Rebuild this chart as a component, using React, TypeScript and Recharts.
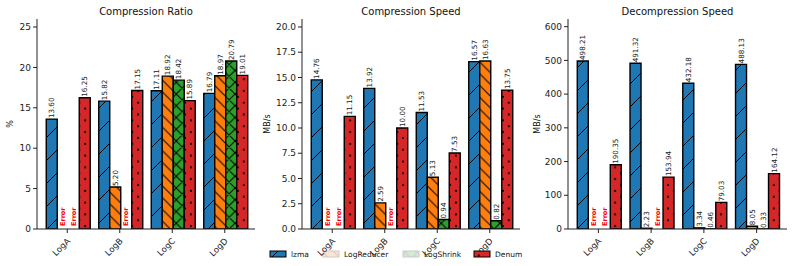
import React from 'react';
import { BarChart, Bar, XAxis, YAxis, LabelList, Cell } from 'recharts';

const categories = ['LogA', 'LogB', 'LogC', 'LogD'];
const seriesNames = ['lzma', 'LogReducer', 'LogShrink', 'Denum'];
const seriesKeys = ['lzma', 'reducer', 'shrink', 'denum'];

// null = "Error"
const ratioLzma = [13.6, 15.82, 17.11, 16.79];
const ratioReducer = [null, 5.2, 18.92, 18.97];
const ratioShrink = [null, null, 18.42, 20.79];
const ratioDenum = [16.25, 17.15, 15.89, 19.01];

const compLzma = [14.76, 13.92, 11.53, 16.57];
const compReducer = [null, 2.59, 5.13, 16.63];
const compShrink = [null, null, 0.94, 0.82];
const compDenum = [11.15, 10.0, 7.53, 13.75];

const decompLzma = [498.21, 491.32, 432.18, 488.13];
const decompReducer = [null, 2.23, 3.34, 8.05];
const decompShrink = [null, null, 0.46, 0.33];
const decompDenum = [190.35, 153.94, 79.03, 164.12];

const ratioTicks = [0, 5, 10, 15, 20, 25];
const compTicks = [0, 2.5, 5, 7.5, 10, 12.5, 15, 17.5, 20];
const decompTicks = [0, 100, 200, 300, 400, 500, 600];

const ERROR_MARK = 1e-9;

const fills = ['url(#hatch-lzma)', 'url(#hatch-reducer)', 'url(#hatch-shrink)', 'url(#hatch-denum)'];
const legendOpacity = [1, 0.2, 0.2, 1];

const FONT = 'DejaVu Sans, sans-serif';

type Panel = {
  title: string;
  yLabel: string;
  values: (number | null)[][];
  max: number;
  ticks: number[];
  fmt: (v: number) => string;
  left: number;
  width: number;
  yAxisWidth: number;
  marginRight: number;
  yLabelX: number;
};

const panels: Panel[] = [
  {
    title: 'Compression Ratio', yLabel: '%',
    values: [ratioLzma, ratioReducer, ratioShrink, ratioDenum],
    max: 25.99, ticks: ratioTicks, fmt: (v) => String(v),
    left: 0, width: 265, yAxisWidth: 37, marginRight: 10, yLabelX: 10,
  },
  {
    title: 'Compression Speed', yLabel: 'MB/s',
    values: [compLzma, compReducer, compShrink, compDenum],
    max: 20.79, ticks: compTicks, fmt: (v) => v.toFixed(1),
    left: 265, width: 265, yAxisWidth: 37, marginRight: 10, yLabelX: 267,
  },
  {
    title: 'Decompression Speed', yLabel: 'MB/s',
    values: [decompLzma, decompReducer, decompShrink, decompDenum],
    max: 622.76, ticks: decompTicks, fmt: (v) => String(v),
    left: 530, width: 263, yAxisWidth: 38, marginRight: 6, yLabelX: 537,
  },
];

const PLOT_TOP = 19;
const PLOT_BOTTOM = 229;
const HEIGHT = 266;

const BarLabel = (props: any) => {
  const vb = props.viewBox || {};
  const x = Number(vb.x ?? props.x);
  const y = Number(vb.y ?? props.y);
  const w = Number(vb.width ?? props.width);
  const v = Number(props.value);
  if (!isFinite(x) || !isFinite(w)) return null;
  const cx = x + w / 2;
  if (!(v > ERROR_MARK * 10)) {
    return (
      <text
        transform={`translate(${cx},${PLOT_BOTTOM - 3}) rotate(-90)`}
        textAnchor="start"
        dominantBaseline="central"
        fill="#ff0000"
        fontWeight="bold"
        fontSize={6.5}
        fontFamily={FONT}
      >
        Error
      </text>
    );
  }
  return (
    <text
      transform={`translate(${cx},${y - 1}) rotate(-90)`}
      textAnchor="start"
      dominantBaseline="central"
      fill="#222"
      fontSize={7.2}
      fontFamily={FONT}
    >
      {v.toFixed(2)}
    </text>
  );
};

const XTick = (props: any) => {
  const { x, y, payload } = props;
  return (
    <text
      transform={`translate(${x - 1},${y + 2}) rotate(-45)`}
      textAnchor="end"
      dominantBaseline="hanging"
      fontSize={8.5}
      fill="#222"
      fontFamily={FONT}
    >
      {payload.value}
    </text>
  );
};

function PanelChart({ p }: { p: Panel }) {
  const data = categories.map((c, i) => {
    const row: any = { cat: c };
    seriesKeys.forEach((k, s) => {
      const v = p.values[s][i];
      row[k] = v === null ? ERROR_MARK : v;
    });
    return row;
  });
  return (
    <div style={{ position: 'absolute', left: p.left, top: 0, width: p.width, height: HEIGHT }}>
      <BarChart
        width={p.width}
        height={HEIGHT}
        data={data}
        margin={{ top: PLOT_TOP, right: p.marginRight, bottom: 0, left: 0 }}
        barCategoryGap="10%"
        barGap={0}
      >
        <XAxis
          dataKey="cat"
          height={HEIGHT - PLOT_BOTTOM}
          padding={{ left: 4, right: 4 }}
          tick={<XTick />}
          tickSize={4}
          stroke="#222"
          tickLine={{ stroke: '#222' }}
          axisLine={{ stroke: '#222', strokeWidth: 1 }}
          interval={0}
        />
        <YAxis
          width={p.yAxisWidth}
          domain={[0, p.max]}
          ticks={p.ticks}
          tickFormatter={p.fmt}
          tickSize={4}
          tickMargin={2}
          allowDataOverflow
          tick={{ fontSize: 9, fill: '#222', fontFamily: FONT }}
          axisLine={{ stroke: '#222', strokeWidth: 1 }}
          tickLine={{ stroke: '#222' }}
        />
        {seriesKeys.map((k, s) => (
          <Bar
            key={k}
            dataKey={k}
            name={seriesNames[s]}
            fill={fills[s]}
            stroke="#000"
            strokeWidth={1.4}
            isAnimationActive={false}
          >
            {p.values[s].map((v, i) => (
              <Cell key={i} stroke={v === null ? 'none' : '#000'} fill={v === null ? 'none' : fills[s]} />
            ))}
            <LabelList dataKey={k} content={<BarLabel />} />
          </Bar>
        ))}
      </BarChart>
    </div>
  );
}

const legendX = [270, 323, 403, 474];

export default function App() {
  return (
    <div style={{ position: 'absolute', left: 0, top: 0, width: 793, height: HEIGHT, background: '#fff', overflow: 'hidden' }}>
      <svg width={0} height={0} style={{ position: 'absolute' }}>
        <defs>
          <pattern id="hatch-lzma" patternUnits="userSpaceOnUse" width="23" height="23">
            <rect width="23" height="23" fill="#1f77b4" />
            <path d="M-2,2 L2,-2 M0,23 L23,0 M21,25 L25,21" stroke="#000" strokeWidth="1" />
          </pattern>
          <pattern id="hatch-reducer" patternUnits="userSpaceOnUse" width="11.75" height="11.75">
            <rect width="11.75" height="11.75" fill="#ff7f0e" />
            <path d="M0,0 L11.75,11.75 M-2,9.75 L2,13.75 M9.75,-2 L13.75,2" stroke="#000" strokeWidth="1" />
          </pattern>
          <pattern id="hatch-shrink" patternUnits="userSpaceOnUse" width="11.75" height="11.75">
            <rect width="11.75" height="11.75" fill="#2ca02c" />
            <path d="M0,0 L11.75,11.75 M-2,9.75 L2,13.75 M9.75,-2 L13.75,2 M-2,2 L2,-2 M0,11.75 L11.75,0 M9.75,13.75 L13.75,9.75" stroke="#000" strokeWidth="1" />
          </pattern>
          <pattern id="hatch-denum" patternUnits="userSpaceOnUse" width="11.75" height="11.75">
            <rect width="11.75" height="11.75" fill="#d62728" />
            <circle cx="2.9" cy="2.9" r="1.1" fill="#000" />
            <circle cx="8.8" cy="8.8" r="1.1" fill="#000" />
          </pattern>
        </defs>
      </svg>
      {panels.map((p) => (
        <PanelChart key={p.title} p={p} />
      ))}
      <svg width={793} height={HEIGHT} style={{ position: 'absolute', left: 0, top: 0, pointerEvents: 'none' }}>
        {panels.map((p) => {
          const plotL = p.left + p.yAxisWidth;
          const plotR = p.left + p.width - p.marginRight;
          return (
            <g key={p.title}>
              <text x={(plotL + plotR) / 2} y={15} textAnchor="middle" fontSize={10} fill="#111" fontFamily={FONT}>
                {p.title}
              </text>
              <text
                transform={`translate(${p.yLabelX},${(PLOT_TOP + PLOT_BOTTOM) / 2}) rotate(-90)`}
                textAnchor="middle"
                dominantBaseline="central"
                fontSize={8}
                fill="#111"
                fontFamily={FONT}
              >
                {p.yLabel}
              </text>
            </g>
          );
        })}
        {seriesNames.map((n, i) => (
          <g key={n}>
            <rect
              x={legendX[i]}
              y={251}
              width={16}
              height={6}
              fill={fills[i]}
              stroke="#000"
              strokeWidth={1}
              opacity={legendOpacity[i]}
            />
            <text x={legendX[i] + 21} y={257} fontSize={7.5} fill="#111" fontFamily={FONT}>
              {n}
            </text>
          </g>
        ))}
      </svg>
    </div>
  );
}
